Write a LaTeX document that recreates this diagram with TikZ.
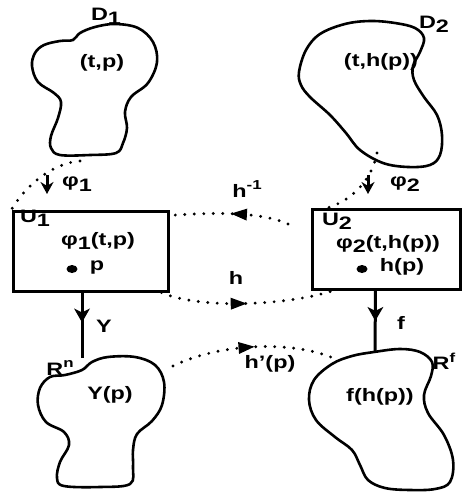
\documentclass[tikz,border=0pt]{standalone}
\usepackage{fontspec}
\setmainfont{Liberation Sans}[FakeStretch=1.3]
\usetikzlibrary{arrows.meta,decorations.markings}
\newcommand\dn[1]{\raisebox{-0.45ex}{#1}}
\newcommand\upx[1]{\raisebox{0.75ex}{\fontsize{13}{14}\selectfont #1}}
\begin{document}
\begin{tikzpicture}[x=1pt,y=-1pt,
  lbl/.style={font=\fontsize{18}{20}\selectfont\bfseries, inner sep=0pt},
  blob/.style={line width=2.6pt, line join=round},
  boxnode/.style={draw, line width=3pt, inner sep=0pt},
  dots/.style={line width=3.2pt, line cap=round, dash pattern=on 0pt off 9.5pt},
  midarr/.style={postaction={decorate}, decoration={markings,
     mark=at position #1 with {\fill[solid] (8pt,0pt) -- (-8pt,6pt) -- (-8pt,-6pt) -- cycle;}}},
  vline/.style={line width=3pt, postaction={decorate}, decoration={markings,
     mark=at position #1 with {\fill[solid] (7pt,0pt) -- (-7pt,8pt) -- (-3pt,0pt) -- (-7pt,-8pt) -- cycle;}}},
  smallarr/.style={line width=3pt, -{Stealth[length=12pt,width=13pt]}}
]
\useasboundingbox (0,0) rectangle (463,493);

% blobs
\draw[blob] plot[smooth cycle, tension=0.6] coordinates {
 (80,33) (95,27) (115,24) (138,28) (153,42) (157,62) (148,83) (131,97) (125,112)
 (127,128) (123,143) (116,153) (90,155) (60,155) (51,148) (51,136) (58,118) (61,102)
 (54,93) (38,82) (32,66) (35,53) (44,45) (60,41) (73,40)};
\draw[blob] plot[smooth cycle, tension=0.6] coordinates {
 (299,72) (306,50) (320,34) (345,24) (370,21) (395,23) (415,28) (424,38) (420,52)
 (413,66) (414,80) (424,97) (437,115) (442,135) (440,155) (430,165) (408,167)
 (383,163) (360,150) (346,133) (330,115) (310,97) (301,85)};
\draw[blob] plot[smooth cycle, tension=0.6] coordinates {
 (50,377) (40,388) (38,405) (46,422) (64,432) (69,445) (60,462) (57,478) (64,486)
 (100,487) (130,484) (133,467) (133,450) (137,434) (152,421) (162,405) (164,382)
 (155,365) (135,357) (108,357) (92,362) (82,370) (65,375)};
\draw[blob] plot[smooth cycle, tension=0.6] coordinates {
 (374,352) (400,349) (420,352) (432,362) (431,376) (424,395) (428,413) (444,435)
 (453,460) (450,482) (435,489) (410,490) (385,488) (368,480) (360,465) (352,450)
 (335,437) (316,420) (309,400) (314,380) (332,364) (352,356)};

% boxes
\node[boxnode, minimum width=155pt, minimum height=80pt] (u1) at (90.5,251) {};
\node[boxnode, minimum width=148pt, minimum height=80pt] (u2) at (386,249) {};

% anchor coordinates on blobs
\coordinate (d1b) at (80,161);
\coordinate (d2b) at (377,153);
\coordinate (rnt) at (82,358);
\coordinate (rft) at (375,352);
\coordinate (ypr) at (173,366);
\coordinate (fpl) at (338,360);

% labels
\node[lbl] (d1l) at (106,16) {D\dn{1}};
\node[lbl] (tp) at (102,63) {(t,p)};
\node[lbl] (d2l) at (434,24) {D\dn{2}};
\node[lbl] (thp) at (381,62) {(t,h(p))};
\node[lbl] (phi1) at (77,184) {φ\dn{1}};
\node[lbl] (phi2) at (405,184) {φ\dn{2}};
\node[lbl] (hinv) at (247,189) {h\upx{-1}};
\node[lbl] (u1l) at (35,218) {U\dn{1}};
\node[lbl] (phitp) at (98,241) {φ\dn{1}(t,p)};
\node[lbl] (pl) at (97,268) {p};
\node[lbl] (u2l) at (337,221) {U\dn{2}};
\node[lbl] (phithp) at (388,244) {φ\dn{2}(t,h(p))};
\node[lbl] (hpl) at (402,267) {h(p)};
\node[lbl] (hl) at (236,278) {h};
\node[lbl] (yl) at (104,326) {Y};
\node[lbl] (fl) at (401,323) {f};
\node[lbl] (rn) at (60,368) {R\upx{n}};
\node[lbl] (yp) at (110,395) {Y(p)};
\node[lbl] (hpp) at (270,364) {h'(p)};
\node[lbl] (fhp) at (380,397) {f(h(p))};
\node[lbl] (rf) at (444,361) {R\upx{f}};

% dots inside boxes
\fill (72,269) ellipse (5.5pt and 4pt);
\fill (362,269) ellipse (5.5pt and 4pt);

% phi maps (dotted)
\draw[dots] (d1b) .. controls (55,163) and (28,182) .. (u1.north west);
\draw[smallarr] (47,175) -- (47,194);
\draw[dots] (d2b) .. controls (372,180) and (352,200) .. ([xshift=18pt]u2.north west);
\draw[smallarr] (368,175) -- (368,194);

% h^{-1} and h
\draw[dots, midarr=0.42] (288,224) .. controls (262,212) and (215,212) .. ([yshift=-6pt]u1.north east);
\draw[dots, midarr=0.45] ([xshift=-8pt]u1.south east) .. controls (200,310) and (290,305) .. ([xshift=23pt]u2.south west);

% h'(p)
\draw[dots, midarr=0.45] (ypr) .. controls (215,345) and (290,338) .. (fpl);

% Y and f
\draw[vline=0.35] ([xshift=-8.5pt]u1.south) -- (rnt);
\draw[vline=0.38] ([xshift=-10.5pt]u2.south) -- (rft);
\end{tikzpicture}
\end{document}
